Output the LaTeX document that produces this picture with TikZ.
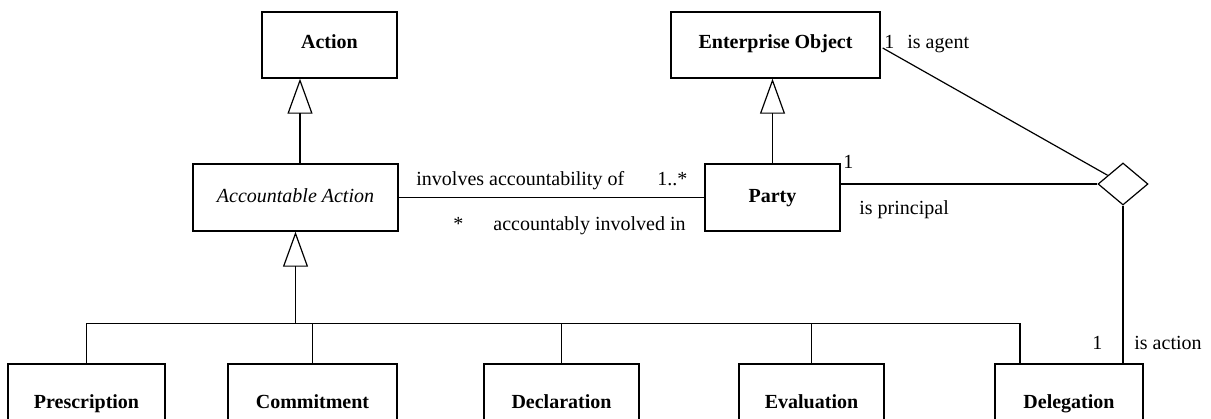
\documentclass[tikz,border=0pt]{standalone}
\usepackage{fontspec}
\setmainfont{Liberation Serif}
\usetikzlibrary{arrows.meta,shapes.geometric,calc}
\begin{document}
\begin{tikzpicture}[x=0.5pt,y=-0.5pt,
  cls/.style={draw, line width=0.7pt, inner sep=0pt, anchor=base},
  title/.style={font=\bfseries},
  assoc/.style={line width=0.6pt},
  gen/.style={line width=0.6pt, -{Triangle[open,length=17.5pt,width=12.5pt]}},
  lbl/.style={inner sep=0pt, anchor=base west},
  toprow/.style={text height=18pt, text depth=15pt},
  midrow/.style={text height=19pt, text depth=14.5pt},
  lowrow/.style={text height=22pt, text depth=30pt}]
\path[use as bounding box] (0,0) rectangle (1211,418);
\clip (0,0) rectangle (1211,418);

% classes
\node[cls,toprow,title,minimum width=67.5pt] (action) at (329.5,48) {Action};
\node[cls,toprow,title,minimum width=104.5pt] (eo) at (775.5,48) {Enterprise Object};
\node[cls,midrow,font=\itshape,minimum width=102.5pt] (acc) at (295.5,202) {Accountable Action};
\node[cls,midrow,title,minimum width=67.5pt] (party) at (772.5,202) {Party};
\node[cls,lowrow,title,minimum width=78.5pt] (presc) at (86.5,408) {Prescription};
\node[cls,lowrow,title,minimum width=84.5pt] (commit) at (312.5,408) {Commitment};
\node[cls,lowrow,title,minimum width=77.5pt] (decl) at (561.5,408) {Declaration};
\node[cls,lowrow,title,minimum width=72.5pt] (eval) at (811.5,408) {Evaluation};
\node[cls,lowrow,title,minimum width=74pt] (deleg) at (1069,408) {Delegation};

% ternary association
\node[draw, diamond, line width=0.6pt, minimum width=25pt, minimum height=21pt, inner sep=0pt] (tern) at (1123,184) {};

% generalisations
\path ($(acc.north)+(4.5,0)$) coordinate (accup);
\draw[gen] (accup) -- (accup |- action.south);
\draw[gen] (party.north) -- (party.north |- eo.south);
\path (acc.south) ++(0,92) coordinate (hub);
\path (deleg.north) ++(-49,0) coordinate (delegtap);
\draw[gen] (hub) -- (acc.south);
\draw[assoc] (presc.north) -- (presc.north |- hub) -- (delegtap |- hub) -- (delegtap);
\foreach \c in {commit,decl,eval} \draw[assoc] (\c.north) -- (\c.north |- hub);

% associations
\draw[assoc] (acc.east) -- (acc.east -| party.west);
\draw[assoc] (party.east |- tern.west) -- (tern.west);
\path (eo.east) ++(2,3) coordinate (eoagent);
\draw[assoc] (eoagent) -- (tern);
\draw[assoc] (tern.south) -- (tern.south |- deleg.north);

% role names and multiplicities
\node[lbl] (l-inv) at (416,185) {involves accountability of};
\node[lbl] (m-inv) at (657,185) {1..*};
\node[lbl] (m-acc) at (453,230) {*};
\node[lbl] (l-acc) at (493,230) {accountably involved in};
\node[lbl] (m-agent) at (884,48) {1};
\node[lbl] (l-agent) at (907,48) {is agent};
\node[lbl] (m-princ) at (843,168) {1};
\node[lbl] (l-princ) at (859,214) {is principal};
\node[lbl] (m-action) at (1092,349) {1};
\node[lbl] (l-action) at (1134,349) {is action};
\end{tikzpicture}
\end{document}
